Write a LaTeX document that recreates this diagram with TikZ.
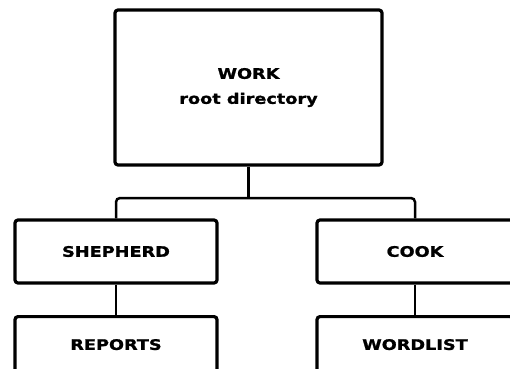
\documentclass[tikz,border=0pt]{standalone}
\usepackage{fontspec}
\newfontfamily\dirfont{DejaVu Sans}[FakeStretch=1.22,FakeBold=1.2]
\usetikzlibrary{positioning}
\tikzset{
  dirbox/.style  = {draw, line width=3.2pt, rounded corners=3pt, inner sep=0pt,
                    align=center, font=\dirfont\bfseries\fontsize{14.5}{25}\selectfont},
  dirlink/.style = {line width=2.5pt, rounded corners=4pt}
}

\begin{document}
\begin{tikzpicture}[x=1pt,y=1pt]
  \useasboundingbox (0,0) rectangle (510,368);
  \clip (0,0) rectangle (510,368);
  \node[dirbox, minimum width=267pt, minimum height=155pt] (work) at (248.5,280.5)
       {WORK\\root directory};
  % user directories under the root
  \node[dirbox, minimum width=202pt, minimum height=63pt] (shepherd) at (116,116.5) {SHEPHERD};
  \node[dirbox, minimum width=196pt, minimum height=63pt] (cook) at (415,116.5) {COOK};
  % subdirectories, cut off by the bottom edge
  \node[dirbox, anchor=north, minimum width=202pt, minimum height=56pt] (reports) at (116,53) {REPORTS};
  \node[dirbox, anchor=north, minimum width=196pt, minimum height=56pt] (wordlist) at (415,53) {WORDLIST};
  \coordinate (bus) at (0,170);
  \draw[dirlink] (work.south) -- (work.south |- bus);
  \draw[dirlink] (shepherd.north) |- (work.south |- bus) -| (cook.north);
  \draw[dirlink] (shepherd) -- (reports);
  \draw[dirlink] (cook) -- (wordlist);
\end{tikzpicture}
\end{document}
